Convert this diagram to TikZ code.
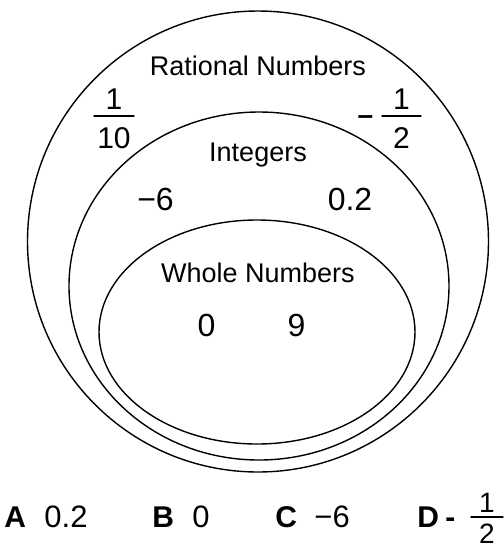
\documentclass[tikz,border=0pt]{standalone}
\usepackage{fontspec}
\setmainfont{Liberation Sans}
\begin{document}
\begin{tikzpicture}[x=0.5pt, y=-0.5pt, line join=round, line cap=round]
\tikzset{
  set/.style={draw, line width=0.7pt},
  lbl/.style={font=\fontsize{13.5}{16}\selectfont, inner sep=0pt, anchor=base},
  num/.style={font=\fontsize{16}{19}\selectfont, inner sep=0pt, anchor=base},
  frc/.style={font=\fontsize{15}{18}\selectfont, inner sep=0pt, anchor=base},
  opt/.style={font=\fontsize{15}{18}\selectfont\bfseries, inner sep=0pt, anchor=base west},
  val/.style={font=\fontsize{15.5}{18}\selectfont, inner sep=0pt, anchor=base west},
}
\useasboundingbox (0,0) rectangle (504,548);
\coordinate (Q) at (258,241.5);
\coordinate (Z) at (259,286);
\coordinate (W) at (257,332);
\draw[set] (Q) circle [radius=115.25pt];
\draw[set] (Z) ellipse [x radius=95pt, y radius=87pt];
\draw[set] (W) ellipse [x radius=79pt, y radius=56pt];
% set names
\node[lbl] (tQ) at (258,75) {Rational Numbers};
\node[lbl] (tZ) at (258,161.5) {Integers};
\node[lbl] (tW) at (258,282.5) {Whole Numbers};
% members
\node[num] (m6) at (155.5,210) {−6};
\node[num] (p02) at (350,210) {0.2};
\node[num] (n0) at (206.5,336) {0};
\node[num] (n9) at (296.5,336) {9};
% 1/10
\coordinate (b1) at (94,116);
\coordinate (b2) at (134,116);
\node[frc] (f1n) at (114,109) {1};
\node[frc] (f1d) at (114,148) {10};
\draw[line width=0.7pt] (b1) -- (b2);
% -1/2
\coordinate (b3) at (382,116);
\coordinate (b4) at (421,116);
\node[lbl, font=\fontsize{14}{17}\selectfont\bfseries] (f2s) at (365.5,124) {–};
\node[frc] (f2n) at (401.5,109) {1};
\node[frc] (f2d) at (401.5,148) {2};
\draw[line width=0.7pt] (b3) -- (b4);
% choices
\node[opt] (oA) at (4,527) {A};
\node[val] (vA) at (44,527) {0.2};
\node[opt] (oB) at (152,527) {B};
\node[val] (vB) at (192,527) {0};
\node[opt] (oC) at (275,527) {C};
\node[val] (vC) at (314,527) {−6};
\node[opt] (oD) at (417,527) {D};
\node[opt] (vDs) at (445,527) {-};
\coordinate (b5) at (471,517);
\coordinate (b6) at (503,517);
\node[frc, font=\fontsize{14}{17}\selectfont] (f3n) at (487,512) {1};
\node[frc, font=\fontsize{14}{17}\selectfont] (f3d) at (487,543) {2};
\draw[line width=0.7pt] (b5) -- (b6);
\end{tikzpicture}
\end{document}
